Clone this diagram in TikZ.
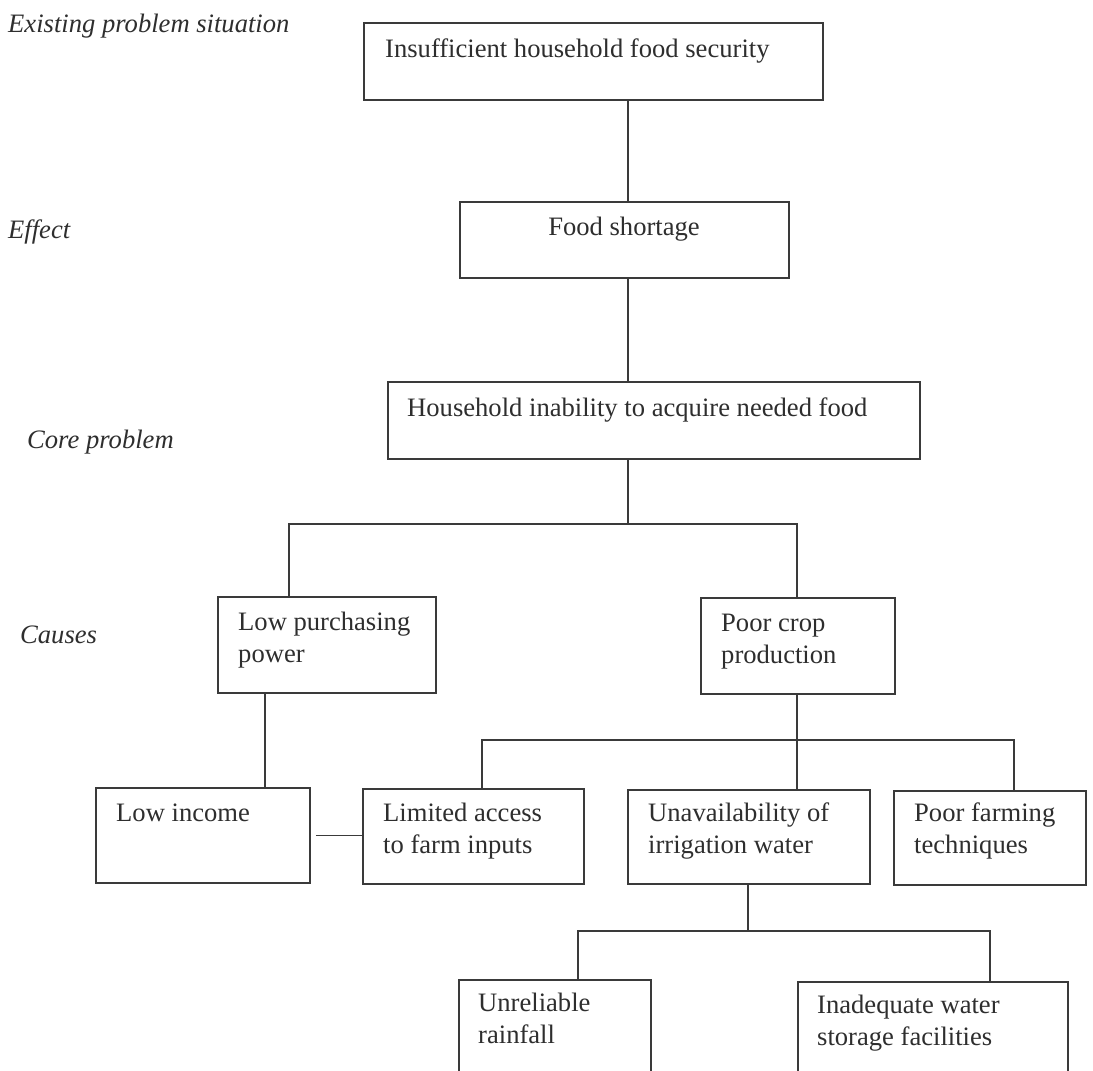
\documentclass[tikz,border=0pt]{standalone}
\usepackage{fontspec}
\setmainfont{Liberation Serif}
\usetikzlibrary{calc}
\definecolor{ink}{HTML}{2E2E2E}
\definecolor{edge}{HTML}{3A3A3A}
\begin{document}
\begin{tikzpicture}[x=1pt,y=-1pt,
  box/.style={draw=edge, line width=1.8pt, rectangle, inner sep=0pt, anchor=north west},
  txt/.style={anchor=base west, inner sep=0pt, align=left, text=ink, font=\fontsize{26.6}{31.5}\selectfont},
  lbl/.style={anchor=base west, inner sep=0pt, text=ink, font=\fontsize{26.6}{31.5}\selectfont\itshape},
  link/.style={draw=edge, line width=1.8pt}]
\fill[white] (0,0) rectangle (1093,1071);
\useasboundingbox (0,0) rectangle (1093,1071);
\clip (0,0) rectangle (1093,1071);

% side labels
\node[lbl] (l1) at (8,32) {Existing problem situation};
\node[lbl] (l2) at (8,238) {Effect};
\node[lbl] (l3) at (27,448) {Core problem};
\node[lbl] (l4) at (20,643) {Causes};

% boxes
\node[box, minimum width=459pt, minimum height=77pt] (b1) at (363,22) {};
\node[box, minimum width=329pt, minimum height=76pt] (b2) at (459,201) {};
\node[box, minimum width=532pt, minimum height=77pt] (b3) at (387,381) {};
\node[box, minimum width=218pt, minimum height=96pt] (lpp) at (217,596) {};
\node[box, minimum width=194pt, minimum height=96pt] (pcp) at (700,597) {};
\node[box, minimum width=214pt, minimum height=95pt] (lowinc) at (95,787) {};
\node[box, minimum width=221pt, minimum height=95pt] (limited) at (362,788) {};
\node[box, minimum width=242pt, minimum height=94pt] (unavail) at (627,789) {};
\node[box, minimum width=192pt, minimum height=94pt] (farming) at (893,790) {};
\node[box, minimum width=192pt, minimum height=130pt] (rain) at (458,979) {};
\node[box, minimum width=270pt, minimum height=130pt] (storage) at (797,981) {};

% texts (multi-line texts are placed by the baseline of their last line)
\node[txt] (t1) at (385,57) {Insufficient household food security};
\node[txt, anchor=base] (t2) at (624,235) {Food shortage};
\node[txt] (t3) at (407,416) {Household inability to acquire needed food};
\node[txt] (t4) at (238,662) {Low purchasing\\power};
\node[txt] (t5) at (721,663) {Poor crop\\production};
\node[txt] (t6) at (116,821) {Low income};
\node[txt] (t7) at (383,853) {Limited access\\to farm inputs};
\node[txt] (t8) at (648,853) {Unavailability of\\irrigation water};
\node[txt] (t9) at (914,853) {Poor farming\\techniques};
\node[txt] (t10) at (478,1043) {Unreliable\\rainfall};
\node[txt] (t11) at (817,1045) {Inadequate water\\storage facilities};

% connectors
\coordinate (spine) at (628,0);
\draw[link] (b1.south -| spine) -- (b2.north -| spine);
\draw[link] (b2.south -| spine) -- (b3.north -| spine);
\coordinate (j1) at (628,524);
\coordinate (jl) at (289,524);
\coordinate (jr) at (797,524);
\draw[link] (b3.south -| spine) -- (j1);
\draw[link] (lpp.north -| jl) -- (jl) -- (jr) -- (pcp.north -| jr);

\coordinate (xlp) at (265,0);
\draw[link] (lpp.south -| xlp) -- (lowinc.north -| xlp);
\draw[link, shorten <=5pt] (lowinc.east) -- (lowinc.east -| limited.west);

\coordinate (k) at (797,740);
\coordinate (kl) at (482,740);
\coordinate (kr) at (1014,740);
\draw[link] (pcp.south -| k) -- (k);
\draw[link] (limited.north -| kl) -- (kl) -- (kr) -- (farming.north -| kr);
\draw[link] (k) -- (unavail.north -| k);

\coordinate (m) at (748,931);
\coordinate (ml) at (578,931);
\coordinate (mr) at (990,931);
\draw[link] (unavail.south -| m) -- (m);
\draw[link] (rain.north -| ml) -- (ml) -- (mr) -- (storage.north -| mr);
\end{tikzpicture}
\end{document}
